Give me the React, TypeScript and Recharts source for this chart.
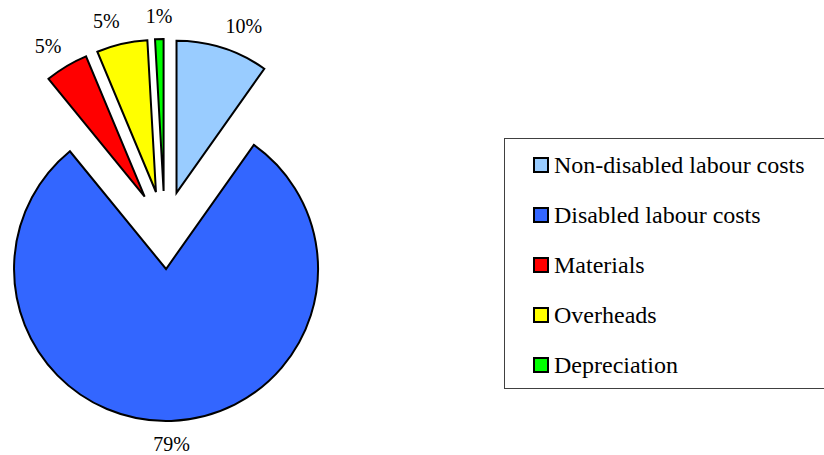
import React from 'react';
import { PieChart, Pie, Sector, Legend } from 'recharts';

const categories = [
  'Non-disabled labour costs',
  'Disabled labour costs',
  'Materials',
  'Overheads',
  'Depreciation',
];
const shares = [9.8, 79.3, 4.6, 5.4, 0.9];
const colors = ['#99CCFF', '#3366FF', '#FF0000', '#FFFF00', '#00FF00'];

const data = categories.map((name, i) => ({ name, value: shares[i] }));

const RADIAN = Math.PI / 180;
const EXPLODE = 39;
const serif = '"Liberation Serif", "Times New Roman", serif';

// every slice is pulled out along its bisector, with the percentage just outside it
function renderSlice(props: any) {
  const { cx, cy, outerRadius, startAngle, endAngle, midAngle, percent, index } = props;
  const dx = Math.cos(-midAngle * RADIAN);
  const dy = Math.sin(-midAngle * RADIAN);
  const sx = cx + EXPLODE * dx;
  const sy = cy + EXPLODE * dy;
  const ax = sx + (outerRadius + 10) * dx;
  const ay = sy + (outerRadius + 10) * dy;
  const anchor = Math.abs(dx) < 0.1 ? 'middle' : dx > 0 ? 'start' : 'end';
  return (
    <g key={`slice-${index}`}>
      <Sector
        cx={sx}
        cy={sy}
        innerRadius={0}
        outerRadius={outerRadius}
        startAngle={startAngle}
        endAngle={endAngle}
        fill={colors[index]}
        stroke="#000"
        strokeWidth={2}
      />
      <text
        x={ax}
        y={ay + dy * 13}
        textAnchor={anchor}
        dominantBaseline="central"
        fontFamily={serif}
        fontSize={20}
        fill="#000"
      >
        {`${Math.round(percent * 100)}%`}
      </text>
    </g>
  );
}

function LegendBox() {
  return (
    <div
      style={{
        boxSizing: 'border-box',
        width: 320,
        height: 251,
        borderTop: '1px solid #404040',
        borderLeft: '1px solid #404040',
        borderBottom: '1px solid #404040',
        paddingTop: 1,
        fontFamily: serif,
        fontSize: 24,
        color: '#000',
        background: '#fff',
      }}
    >
      {categories.map((name, i) => (
        <div
          key={name}
          style={{ height: 50, display: 'flex', alignItems: 'center', paddingLeft: 28 }}
        >
          <span
            style={{
              display: 'inline-block',
              boxSizing: 'border-box',
              width: 16,
              height: 16,
              border: '2px solid #000',
              background: colors[i],
              marginRight: 5,
            }}
          />
          <span style={{ lineHeight: 1, whiteSpace: 'nowrap' }}>{name}</span>
        </div>
      ))}
    </div>
  );
}

export default function App() {
  return (
    <div
      style={{
        position: 'absolute',
        left: 0,
        top: 0,
        width: 824,
        height: 455,
        overflow: 'hidden',
        background: '#fff',
      }}
    >
      <PieChart width={824} height={455} margin={{ top: 0, right: 0, bottom: 0, left: 0 }}>
        <Pie
          data={data}
          dataKey="value"
          nameKey="name"
          cx={164.7}
          cy={230}
          outerRadius={152}
          startAngle={90}
          endAngle={-270}
          fill="none"
          stroke="none"
          labelLine={false}
          label={renderSlice}
          isAnimationActive={false}
        />
        <Legend
          layout="vertical"
          align="right"
          verticalAlign="middle"
          content={() => <LegendBox />}
          wrapperStyle={{ left: 504, top: 138, right: 'auto', bottom: 'auto', width: 320 }}
        />
      </PieChart>
    </div>
  );
}
